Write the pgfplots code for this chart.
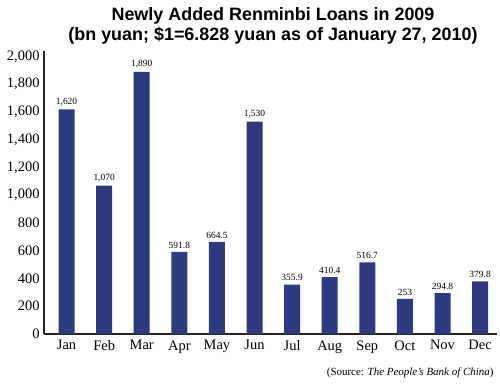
\documentclass[border=0pt]{standalone}
\usepackage{pgfplots}
\pgfplotsset{compat=1.18}
\usepackage{fontspec}
\setmainfont{Liberation Serif}
\newfontfamily\titlefont{Liberation Sans}
\definecolor{barblue}{HTML}{2C3B80}
\begin{document}
\begin{tikzpicture}[x=1bp,y=1bp]
\useasboundingbox (0,0) rectangle (500,385);
\begin{axis}[
  at={(44bp,51bp)}, anchor=south west,
  scale only axis, width=453bp, height=283bp,
  xmin=-0.6, xmax=11.45, ymin=0, ymax=2040,
  axis x line=bottom, axis y line=left,
  axis line style={-, line width=1.2pt, black!85},
  ytick={0,200,...,2000},
  xtick=data,
  xticklabels={Jan,Feb,Mar,Apr,May,Jun,Jul,Aug,Sep,Oct,Nov,Dec},
  major tick length=0pt,
  tick label style={font=\fontsize{14.5}{14.5}\selectfont},
  xticklabel style={yshift=-3bp},
  yticklabel style={xshift=-1bp,/pgf/number format/.cd,1000 sep={,},assume math mode=true},
  ybar, bar width=16bp,
  nodes near coords,
  every node near coord/.append style={font=\fontsize{9.5}{10}\selectfont, black, /pgf/number format/.cd, fixed, precision=1, 1000 sep={,}, assume math mode=true},
  clip=false,
]
\addplot[fill=barblue, draw=none] coordinates {
(0,1620) (1,1070) (2,1890) (3,591.8) (4,664.5) (5,1530)
(6,355.9) (7,410.4) (8,516.7) (9,253) (10,294.8) (11,379.8)};
\end{axis}
\node[font=\titlefont\bfseries\fontsize{18}{20.5}\selectfont, align=center] at (273,359) {Newly Added Renminbi Loans in 2009\\(bn yuan; \$1=6.828 yuan as of January 27, 2010)};
\node[anchor=base east, font=\fontsize{11}{11}\selectfont] at (497,10) {(Source: \textit{The People's Bank of China})};
\end{tikzpicture}
\end{document}
